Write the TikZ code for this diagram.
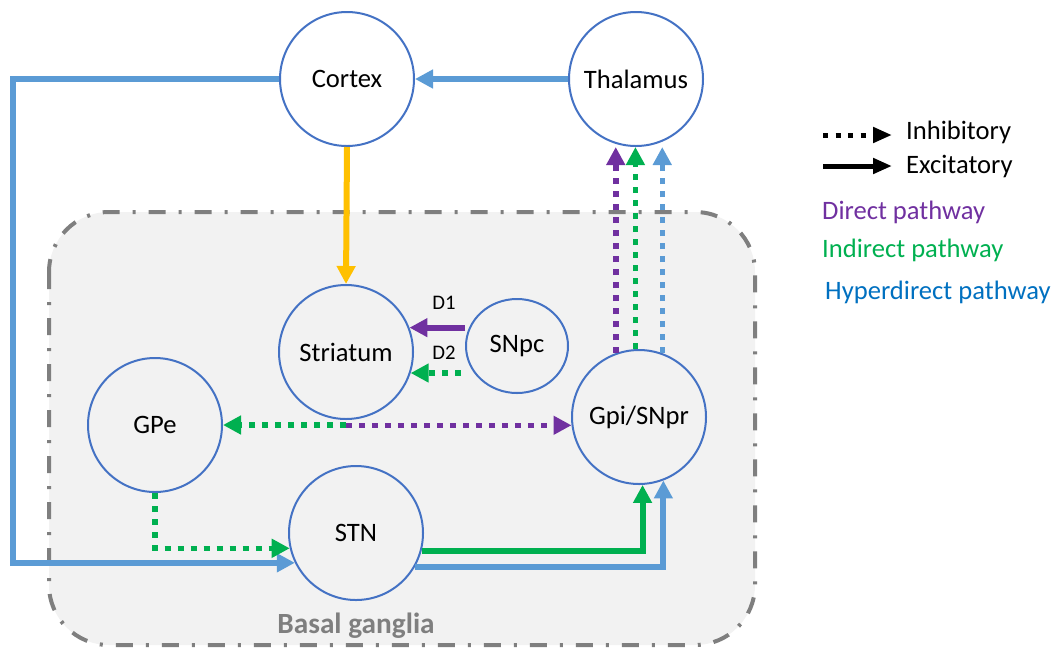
\documentclass[tikz,border=0pt]{standalone}
\usepackage{fontspec}
\setmainfont{Carlito}
\usetikzlibrary{arrows.meta,shapes.geometric,calc}
\definecolor{nodeblue}{HTML}{4472C4}
\definecolor{hblue}{HTML}{5B9BD5}
\definecolor{dgreen}{HTML}{00B050}
\definecolor{dpurple}{HTML}{7030A0}
\definecolor{orangeY}{HTML}{FFC000}
\definecolor{bgray}{HTML}{7F7F7F}
\definecolor{bgfill}{HTML}{F2F2F2}
\definecolor{legblue}{HTML}{0070C0}
\begin{document}
\begin{tikzpicture}[x=1pt,y=-1pt,
  brain/.style={circle, draw=nodeblue, line width=2pt, minimum size=134pt, inner sep=0pt, font=\fontsize{26.6}{32}\selectfont},
  exc/.style={line width=6pt, -{Triangle[length=18pt,width=18pt]}},
  inh/.style={line width=5.5pt, dash pattern=on 6pt off 7pt, -{Triangle[length=18pt,width=18pt]}},
  legtext/.style={anchor=west, inner sep=0pt, font=\fontsize{26.6}{32}\selectfont},
  dlabel/.style={font=\fontsize{20.7}{24}\selectfont, inner sep=0pt}
]
\useasboundingbox (0,0) rectangle (1062,649);
% basal ganglia region
\draw[draw=bgray, fill=bgfill, line width=4pt, rounded corners=60pt,
      dash pattern=on 17pt off 13pt on 3pt off 13pt] (49,212) rectangle (755,645);
\node[font=\bfseries\fontsize{29.3}{34}\selectfont, text=bgray, inner sep=0pt] (bg) at (356,626) {Basal ganglia};

% nodes
\node[brain, fill=white] (cortex) at (347,79) {Cortex};
\node[brain, fill=white] (thal) at (636,79) {Thalamus};
\node[brain] (str) at (346,352) {Striatum};
\node[brain, ellipse, minimum width=102pt, minimum height=94pt] (snpc) at (517,346) {SNpc};
\node[brain] (gpe) at (155,425) {GPe};
\node[brain] (gpi) at (639,417) {Gpi/SNpr};
\node[brain] (stn) at (356,533) {STN};

% connectors
\draw[exc, hblue] (thal.west) -- (cortex.east);
\draw[exc, orangeY] (cortex.south) -- (str.north);
\coordinate (hyp) at (13,300);
\draw[exc, hblue] (cortex.west) -| (hyp) |- (stn.206);
\draw[exc, hblue] (stn.-30) -| (gpi.-69);
\draw[exc, dgreen] (stn.-15) -| (gpi.-87);
\draw[inh, dgreen] (gpe.south) |- (stn.193);
\draw[inh, dgreen] (str.south |- gpe.east) -- (gpe.east);
\draw[inh, dpurple] (str.south |- gpi.187) -- (gpi.187);
\draw[exc, dpurple] (str.21 -| snpc.west) -- (str.21);
\draw[inh, dgreen, shorten <=4pt] (str.-18 -| snpc.west) -- (str.-18);
\draw[inh, dpurple] (gpi.110) -- (gpi.110 |- thal.south);
\draw[inh, dgreen] (gpi.93) -- (gpi.93 |- thal.south);
\draw[inh, hblue] (gpi.70) -- (gpi.70 |- thal.south);

\node[dlabel] (d1) at (444,303) {D1};
\node[dlabel] (d2) at (444,353) {D2};

% legend
\coordinate (li1) at (823,135);
\coordinate (li2) at (892,135);
\coordinate (le1) at (823,166);
\coordinate (le2) at (892,166);
\draw[line width=5pt, dash pattern=on 5pt off 7.5pt, -{Triangle[length=19pt,width=15pt]}] (li1) -- (li2);
\draw[line width=5pt, -{Triangle[length=19pt,width=15pt]}] (le1) -- (le2);
\node[legtext] (inhib) at (906,132) {Inhibitory};
\node[legtext] (excit) at (906,166) {Excitatory};
\node[legtext, text=dpurple] (ldir) at (822,212) {Direct pathway};
\node[legtext, text=dgreen] (lind) at (822,250) {Indirect pathway};
\node[legtext, text=legblue] (lhyp) at (825,292) {Hyperdirect pathway};
\end{tikzpicture}
\end{document}
